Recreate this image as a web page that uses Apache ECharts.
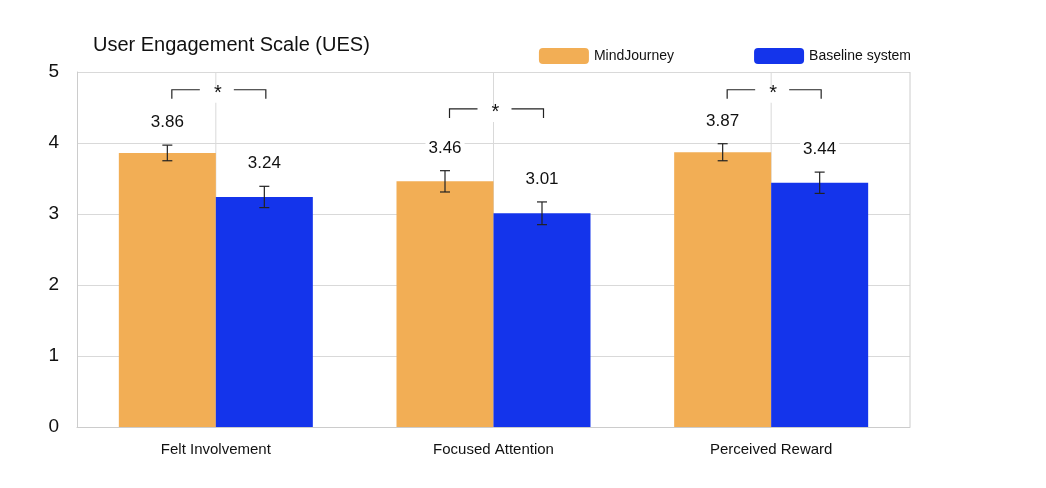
<!DOCTYPE html>
<html>
<head>
<meta charset="UTF-8" />
<script src="https://cdn.jsdelivr.net/npm/echarts@6/dist/echarts.min.js"></script>
<style>body{margin:0;background:#fff}#chart{width:1046px;height:488px}</style>
</head>
<body>
<div id="chart"></div>
<script>
  // data
  const categories = ["Felt Involvement", "Focused Attention", "Perceived Reward"];
  const mindJourney = [3.86, 3.46, 3.87];
  const mindErr = [0.11, 0.15, 0.12];
  const baseline = [3.24, 3.01, 3.44];
  const baseErr = [0.15, 0.16, 0.15];
  const significant = [0, 1, 2];
  const bracketTop = [4.75, 4.48, 4.75];

  const myChart = echarts.init(document.getElementById("chart"));
  const OFF = 48.5;

  function errData(vals, errs) {
    return vals.map((v, i) => [i, v, errs[i]]);
  }
  function errRender(side) {
    return function (params, api) {
      const c = api.coord([api.value(0), api.value(1)]);
      const e = api.value(2);
      const x = c[0] + side * OFF;
      const top = api.coord([0, api.value(1) + e])[1];
      const bot = api.coord([0, api.value(1) - e])[1];
      const st = { stroke: "#222", lineWidth: 1.2 };
      return {
        type: "group",
        children: [
          { type: "line", shape: { x1: x, y1: top, x2: x, y2: bot }, style: st },
          { type: "line", shape: { x1: x - 5, y1: top, x2: x + 5, y2: top }, style: st },
          { type: "line", shape: { x1: x - 5, y1: bot, x2: x + 5, y2: bot }, style: st },
          { type: "text", x: x, y: top - 12, style: {
              text: api.value(1).toFixed(2), fill: "#111", fontSize: 17,
              fontFamily: "Liberation Sans", align: "center", verticalAlign: "bottom",
              backgroundColor: "#fff", padding: [2, 3] } }
        ]
      };
    };
  }

  const option = {
    animation: false,
    title: {
      text: "User Engagement Scale (UES)", left: 88, top: 30,
      textStyle: { fontSize: 20, fontWeight: "normal", color: "#111", fontFamily: "Liberation Sans" }
    },
    legend: {
      right: 130, top: 43, itemWidth: 50, itemHeight: 16, itemGap: 80,
      textStyle: { fontSize: 14, color: "#111", fontFamily: "Liberation Sans" },
      data: ["MindJourney", "Baseline system"]
    },
    grid: { left: 77, right: 136, top: 72, bottom: 61 },
    xAxis: {
      type: "category", data: categories,
      axisTick: { show: false },
      axisLine: { lineStyle: { color: "#ccc" } },
      axisLabel: { fontSize: 15, color: "#111", margin: 15, fontFamily: "Liberation Sans" },
      splitLine: { show: false }
    },
    yAxis: {
      type: "value", min: 0, max: 5, interval: 1,
      axisLabel: { fontSize: 19, color: "#111", margin: 18, fontFamily: "Liberation Sans" },
      axisLine: { show: true, lineStyle: { color: "#ccc" } },
      splitLine: { lineStyle: { color: "#d9d9d9" } }
    },
    series: [
      { name: "MindJourney", type: "bar", data: mindJourney, barWidth: 97, barGap: "0%",
        itemStyle: { color: "#F2AE55" }, z: 2 },
      { name: "Baseline system", type: "bar", data: baseline, barWidth: 97,
        itemStyle: { color: "#1434EB" }, z: 2 },
      // vertical center lines and right border
      { type: "custom", silent: true, z: 1, data: categories.map((c, i) => [i]),
        renderItem: (p, api) => {
          const a = api.coord([api.value(0), 5]), b = api.coord([api.value(0), 0]);
          return { type: "line", shape: { x1: a[0], y1: a[1], x2: b[0], y2: b[1] },
                   style: { stroke: "#d9d9d9", lineWidth: 1 } };
        } },
      { type: "custom", silent: true, z: 5, data: errData(mindJourney, mindErr), renderItem: errRender(-1) },
      { type: "custom", silent: true, z: 5, data: errData(baseline, baseErr), renderItem: errRender(1) },
      { type: "custom", silent: true, z: 5, data: significant.map(i => [i, bracketTop[i]]),
        renderItem: (p, api) => {
          const c = api.coord([api.value(0), api.value(1)]);
          const y = c[1], x = c[0];
          const y2 = y + 9;
          const st = { stroke: "#222", lineWidth: 1.2 };
          return { type: "group", children: [
            { type: "rect", shape: { x: x - 50, y: y - 3, width: 100, height: 16 }, style: { fill: "#fff" } },
            { type: "polyline", shape: { points: [[x - 44, y2], [x - 44, y], [x - 16, y]] }, style: Object.assign({ fill: null }, st) },
            { type: "polyline", shape: { points: [[x + 18, y], [x + 50, y], [x + 50, y2]] }, style: Object.assign({ fill: null }, st) },
            { type: "text", x: x + 2, y: y + 4, style: { text: "*", fontSize: 20, fill: "#111",
                align: "center", verticalAlign: "middle", fontFamily: "Liberation Sans" } }
          ] };
        } }
    ]
  };
  myChart.setOption(option);
  // right border line
  myChart.setOption({ graphic: [{ type: "line", shape: { x1: 910, y1: 72, x2: 910, y2: 427 },
    style: { stroke: "#ccc" } }] });
</script>
</body>
</html>
